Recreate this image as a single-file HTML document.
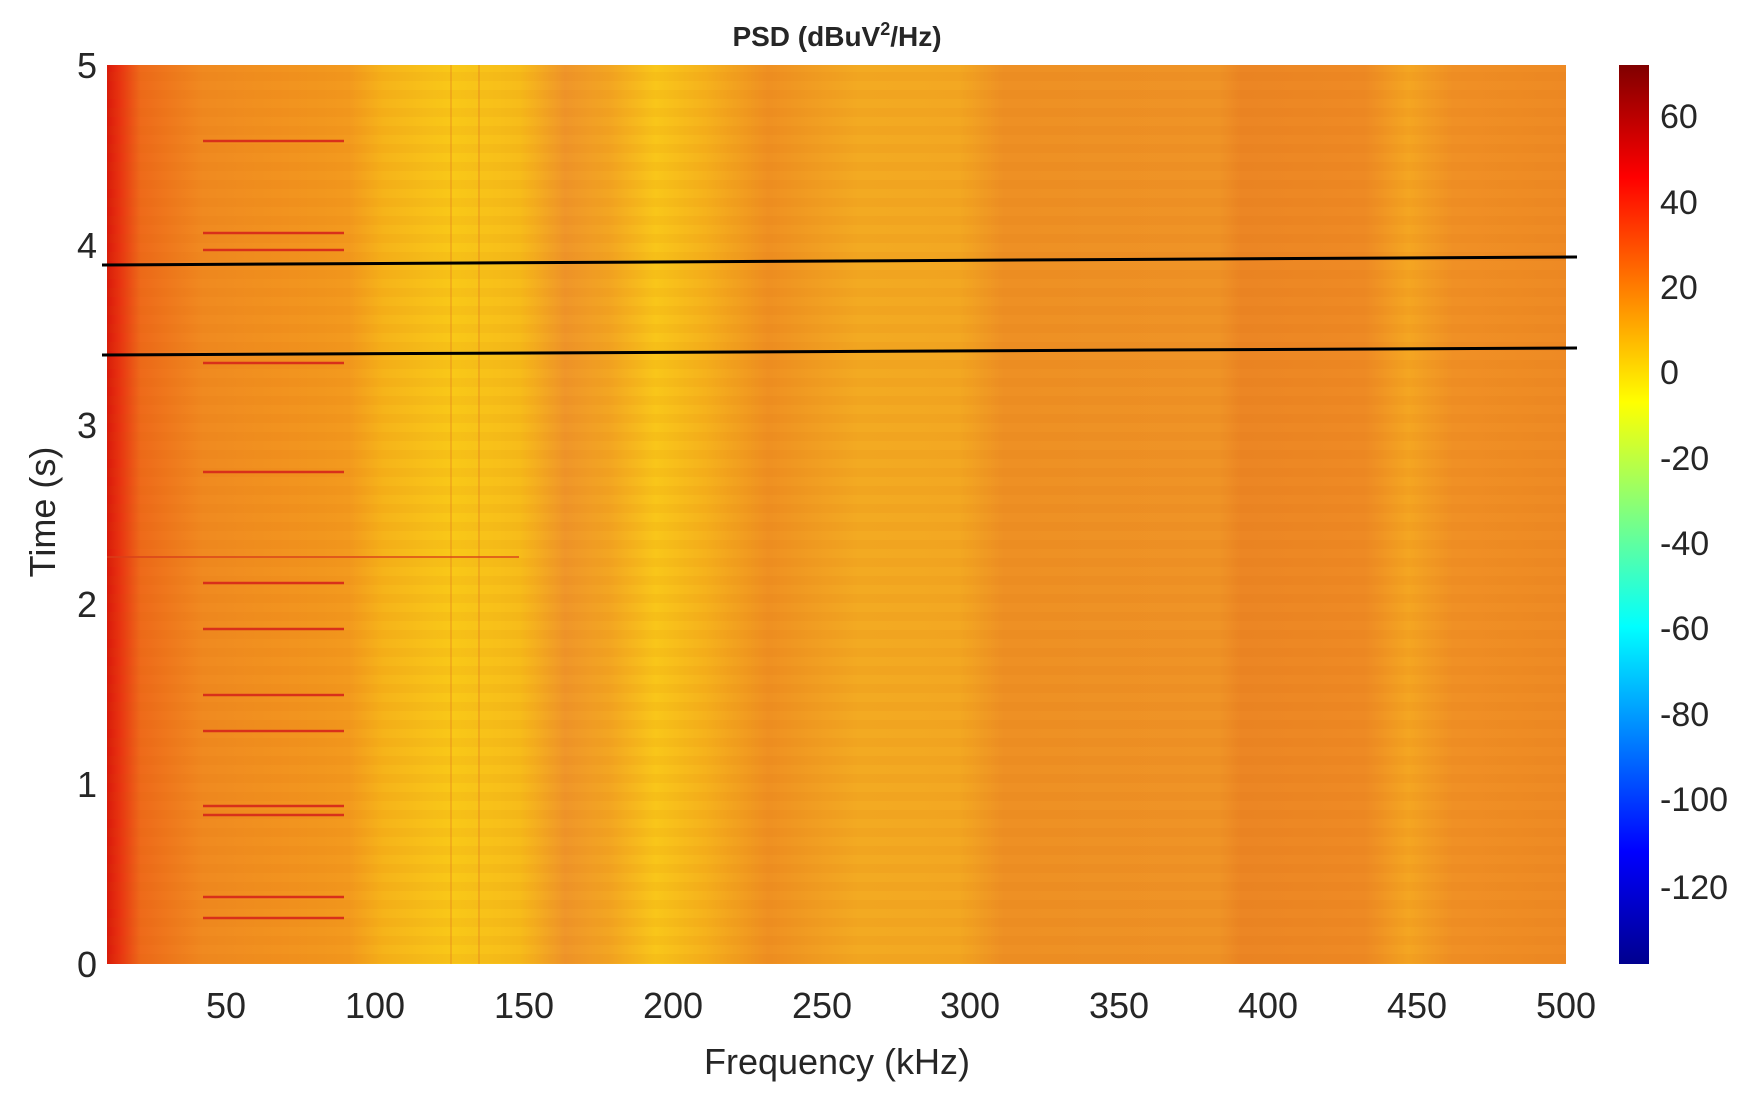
<!DOCTYPE html>
<html><head><style>body{margin:0;background:#fff}svg{display:block}text{font-family:"Liberation Sans",sans-serif;fill:#262626}</style></head><body>
<svg width="1763" height="1109" viewBox="0 0 1763 1109">
<defs>
<linearGradient id="g" gradientUnits="userSpaceOnUse" x1="107" y1="0" x2="1566" y2="0">
<stop offset="0" stop-color="#d81a0a"/><stop offset=".008" stop-color="#e83010"/><stop offset=".023" stop-color="#ee6a1a"/><stop offset=".066" stop-color="#f08a20"/><stop offset=".166" stop-color="#f39a1e"/><stop offset=".19" stop-color="#f6b41a"/><stop offset=".236" stop-color="#f9c818"/><stop offset=".283" stop-color="#f7bc1a"/><stop offset=".314" stop-color="#f0962a"/><stop offset=".345" stop-color="#f3a622"/><stop offset=".376" stop-color="#f9c61a"/><stop offset=".407" stop-color="#f6b41c"/><stop offset=".453" stop-color="#ef9022"/><stop offset=".515" stop-color="#f3aa22"/><stop offset=".584" stop-color="#f3a822"/><stop offset=".615" stop-color="#ee9024"/><stop offset=".762" stop-color="#ef9426"/><stop offset=".777" stop-color="#ec8624"/><stop offset=".862" stop-color="#ee8a24"/><stop offset=".892" stop-color="#f4a622"/><stop offset=".923" stop-color="#f09025"/><stop offset="1" stop-color="#ee8a24"/>
</linearGradient>
<linearGradient id="jet" x1="0" y1="1" x2="0" y2="0">
<stop offset="0" stop-color="#00008f"/><stop offset=".125" stop-color="#0000ff"/><stop offset=".375" stop-color="#00ffff"/><stop offset=".625" stop-color="#ffff00"/><stop offset=".875" stop-color="#ff0000"/><stop offset="1" stop-color="#800000"/>
</linearGradient>
<pattern id="st" width="20" height="18" patternUnits="userSpaceOnUse"><rect width="20" height="9" fill="#c05000" opacity=".06"/></pattern>
</defs>
<rect x="107" y="65" width="1459" height="899" fill="url(#g)"/>
<rect x="107" y="65" width="1459" height="899" fill="url(#st)"/>
<g stroke="#e07020" stroke-width="2" opacity=".3"><line x1="451" y1="65" x2="451" y2="964"/><line x1="479" y1="65" x2="479" y2="964"/></g>
<g stroke="#d8301a" stroke-width="2.5">
<line x1="203" y1="141" x2="344" y2="141"/><line x1="203" y1="233" x2="344" y2="233"/><line x1="203" y1="250" x2="344" y2="250"/><line x1="203" y1="363" x2="344" y2="363"/><line x1="203" y1="472" x2="344" y2="472"/><line x1="203" y1="583" x2="344" y2="583"/><line x1="203" y1="629" x2="344" y2="629"/><line x1="203" y1="695" x2="344" y2="695"/><line x1="203" y1="731" x2="344" y2="731"/><line x1="203" y1="806" x2="344" y2="806"/><line x1="203" y1="815" x2="344" y2="815"/><line x1="203" y1="897" x2="344" y2="897"/><line x1="203" y1="918" x2="344" y2="918"/>
</g>
<line x1="107" y1="557" x2="519" y2="557" stroke="#d8401a" stroke-width="2" opacity=".7"/>
<g stroke="#000" stroke-width="3"><line x1="102" y1="265" x2="1577" y2="257"/><line x1="102" y1="355" x2="1577" y2="348"/></g>
<text x="837" y="46" font-size="28" font-weight="bold" text-anchor="middle">PSD (dBuV<tspan font-size="18" dy="-11">2</tspan><tspan dy="11">/Hz)</tspan></text>
<g font-size="36" text-anchor="middle">
<text x="226" y="1018">50</text><text x="375" y="1018">100</text><text x="524" y="1018">150</text><text x="673" y="1018">200</text><text x="822" y="1018">250</text><text x="970" y="1018">300</text><text x="1119" y="1018">350</text><text x="1268" y="1018">400</text><text x="1417" y="1018">450</text><text x="1566" y="1018">500</text>
<text x="837" y="1074">Frequency (kHz)</text>
<text transform="translate(55,512) rotate(-90)">Time (s)</text>
</g>
<g font-size="36" text-anchor="end">
<text x="97" y="977">0</text><text x="97" y="797">1</text><text x="97" y="617">2</text><text x="97" y="438">3</text><text x="97" y="258">4</text><text x="97" y="78">5</text>
</g>
<rect x="1619" y="65" width="30" height="899" fill="url(#jet)"/>
<g font-size="34">
<text x="1660" y="128">60</text><text x="1660" y="214">40</text><text x="1660" y="299">20</text><text x="1660" y="384">0</text><text x="1660" y="470">-20</text><text x="1660" y="555">-40</text><text x="1660" y="640">-60</text><text x="1660" y="726">-80</text><text x="1660" y="811">-100</text><text x="1660" y="899">-120</text>
</g>
</svg>
</body></html>
